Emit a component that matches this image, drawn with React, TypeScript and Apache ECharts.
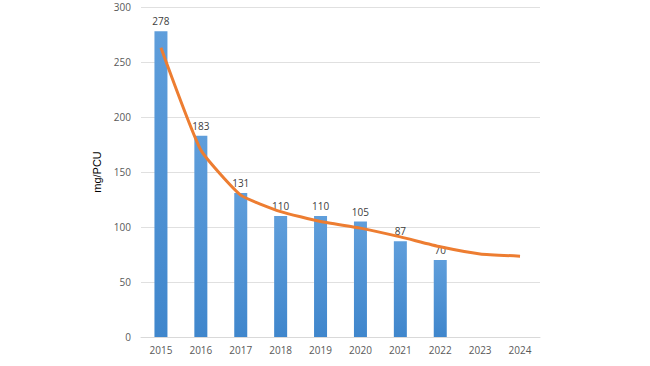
import React, { useEffect, useRef } from "react";
import * as echarts from "echarts";

const categories = ["2015", "2016", "2017", "2018", "2019", "2020", "2021", "2022", "2023", "2024"];
const barValues: (number | null)[] = [278, 183, 131, 110, 110, 105, 87, 70, null, null];
const lineValues = [263, 170, 129, 114, 105, 99, 91, 82, 75.5, 73.5];
const yTicks = { min: 0, max: 300, interval: 50 };

export default function App() {
  const ref = useRef<HTMLDivElement>(null);
  useEffect(() => {
    document.body.style.margin = "0";
    if (!ref.current) return;
    const chart = echarts.init(ref.current, undefined, { renderer: "svg" });
    chart.setOption({
      animation: false,
      backgroundColor: "#ffffff",
      grid: { left: 141, right: 110, top: 7, bottom: 29, containLabel: false },
      xAxis: {
        type: "category",
        data: categories,
        axisLine: { lineStyle: { color: "#d9d9d9" } },
        axisTick: { show: false },
        axisLabel: { color: "#595959", fontSize: 10, fontFamily: "Open Sans", margin: 8 },
      },
      yAxis: {
        type: "value",
        min: yTicks.min,
        max: yTicks.max,
        interval: yTicks.interval,
        name: "mg/PCU",
        nameLocation: "middle",
        nameGap: 38,
        nameTextStyle: { color: "#000000", fontSize: 11, fontFamily: "Liberation Sans" },
        axisLine: { show: false },
        axisTick: { show: false },
        axisLabel: { color: "#595959", fontSize: 10, fontFamily: "Open Sans", margin: 10 },
        splitLine: { lineStyle: { color: "#e0e0e0" } },
      },
      series: [
        {
          type: "bar",
          data: barValues,
          barWidth: 13,
          itemStyle: {
            color: new echarts.graphic.LinearGradient(0, 0, 0, 1, [
              { offset: 0, color: "#5f9edb" },
              { offset: 1, color: "#3f86cc" },
            ]),
          },
          label: {
            show: true,
            position: "top",
            distance: 5,
            color: "#404040",
            fontSize: 10,
            fontFamily: "Open Sans",
          },
        },
        {
          type: "line",
          data: lineValues,
          symbol: "none",
          smooth: 0.15,
          lineStyle: { color: "#ED7D31", width: 3 },
        },
      ],
    });
    return () => chart.dispose();
  }, []);
  return <div ref={ref} style={{ width: 650, height: 366 }} />;
}
